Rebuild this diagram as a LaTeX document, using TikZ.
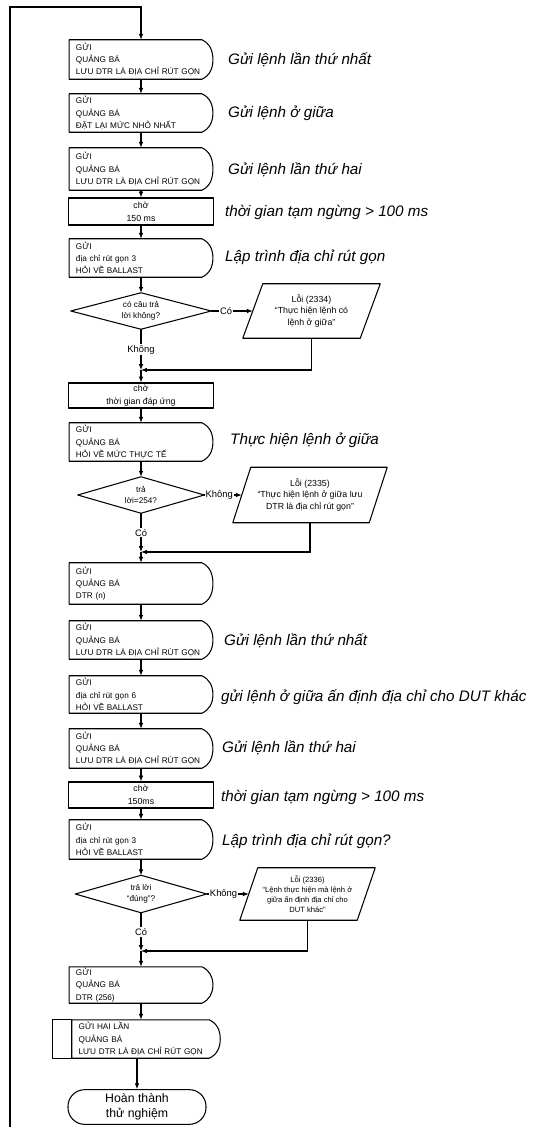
\documentclass[tikz,border=0pt]{standalone}
\usepackage{fontspec}
\setmainfont{Liberation Sans}
\usetikzlibrary{arrows.meta,calc,positioning}
\tikzset{
  vien/.style={
    line width = 0.9pt,
    line join = round
  },
  flow/.style={
    line width = 0.9pt,
    -{Latex[length=5pt,width=4pt]}
  },
  gui/.style={
    inner xsep = 0.2cm,
    inner ysep = 0pt,
    text width = 3.9cm,
    align = left,
    font = \fontsize{7}{10.5}\selectfont
  },
  cho/.style={
    draw,
    vien,
    minimum width = 4.35cm,
    align = center,
    inner sep = 0pt,
    font = \fontsize{7.5}{11}\selectfont
  },
  hoi/.style={
    inner sep = 0pt,
    align = center,
    font = \fontsize{7}{9.5}\selectfont
  },
  loi/.style={
    inner sep = 0pt,
    align = center,
    font = \fontsize{7.5}{10}\selectfont
  },
  ketthuc/.style={
    draw,
    vien,
    rounded corners = 0.5cm,
    minimum width = 4.14cm,
    align = center,
    font = \fontsize{10.5}{13}\selectfont
  },
  ghichu/.style={
    anchor = west,
    inner sep = 0pt,
    font = \fontsize{13}{15}\selectfont\itshape
  },
  nhan/.style={
    fill = white,
    inner sep = 1pt,
    font = \fontsize{8}{9}\selectfont
  }
}

\begin{document}
\begin{tikzpicture}[x=0.03cm,y=-0.03cm]
    \def\px{0.03cm}
    \useasboundingbox (0,0) rectangle (537,1127);
    % first pass
    \node[gui, minimum height=39*\px] (g1) at (141,59.5) {GỬI\\QUẢNG BÁ\\LƯU DTR LÀ ĐỊA CHỈ RÚT GỌN};
    \node[gui, minimum height=38*\px] (g2) at (141,113) {GỬI\\QUẢNG BÁ\\ĐẶT LẠI MỨC NHỎ NHẤT};
    \node[gui, minimum height=42*\px] (g3) at (141,169) {GỬI\\QUẢNG BÁ\\LƯU DTR LÀ ĐỊA CHỈ RÚT GỌN};
    \node[cho, minimum height=27*\px] (w1) at (141,211.5) {chờ\\150 ms};
    \node[gui, minimum height=38*\px] (g4) at (141,258) {GỬI\\địa chỉ rút gọn 3\\HỎI VỀ BALLAST};
    \node[hoi, minimum width=140*\px, minimum height=36*\px] (d1) at (141,311) {có câu trả\\lời không?};
    \node[loi, minimum width=137*\px, minimum height=54*\px] (e1) at (311.5,311) {Lỗi (2334)\\“Thực hiện lệnh có\\lệnh ở giữa”};
    \coordinate (m1) at (141,370);
    \node[cho, minimum height=25*\px] (w2) at (141,395.5) {chờ\\thời gian đáp ứng};
    \node[gui, minimum height=38*\px] (g5) at (141,442) {GỬI\\QUẢNG BÁ\\HỎI VỀ MỨC THỰC TẾ};
    \node[hoi, minimum width=126*\px, minimum height=36*\px] (d2) at (141,495) {trả\\lời=254?};
    \node[loi, minimum width=154*\px, minimum height=55*\px] (e2) at (310,495) {Lỗi (2335)\\“Thực hiện lệnh ở giữa lưu\\DTR là địa chỉ rút gọn”};
    \coordinate (m2) at (141,552);
    % second pass
    \node[gui, minimum height=41*\px] (g6) at (141,583.5) {GỬI\\QUẢNG BÁ\\DTR (n)};
    \node[gui, minimum height=38*\px] (g7) at (141,640) {GỬI\\QUẢNG BÁ\\LƯU DTR LÀ ĐỊA CHỈ RÚT GỌN};
    \node[gui, minimum height=37*\px] (g8) at (141,694.5) {GỬI\\địa chỉ rút gọn 6\\HỎI VỀ BALLAST};
    \node[gui, minimum height=39*\px] (g9) at (141,748.5) {GỬI\\QUẢNG BÁ\\LƯU DTR LÀ ĐỊA CHỈ RÚT GỌN};
    \node[cho, minimum height=26*\px] (w3) at (141,795) {chờ\\150ms};
    \node[gui, minimum height=39*\px] (g10) at (141,839.5) {GỬI\\địa chỉ rút gọn 3\\HỎI VỀ BALLAST};
    \node[hoi, minimum width=131*\px, minimum height=37*\px] (d3) at (141,894) {trả lời\\“đúng”?};
    \node[loi, minimum width=135*\px, minimum height=52*\px, font=\fontsize{6.5}{8.5}\selectfont] (e3) at (307.5,894) {Lỗi (2336)\\“Lệnh thực hiện mà lệnh ở\\giữa ấn định địa chỉ cho\\DUT khác”};
    \coordinate (m3) at (141,951);
    \node[gui, minimum height=36*\px] (g11) at (141,985) {GỬI\\QUẢNG BÁ\\DTR (256)};
    \node[gui, text width=4.04cm, minimum height=38*\px] (g12) at (146,1039) {GỬI HAI LẦN\\QUẢNG BÁ\\LƯU DTR LÀ ĐỊA CHỈ RÚT GỌN};
    \node[ketthuc, minimum height=34*\px] (t1) at (137,1107) {Hoàn thành\\thử nghiệm};
    % outlines
    \foreach \n in {g1,g2,g3,g4,g5,g6,g7,g8,g9,g10,g11,g12}{
    \draw[vien] ($(\n.north east)+(-11,0)$) -- (\n.north west) -- (\n.south west)
      -- ($(\n.south east)+(-11,0)$) to[out=25,in=-90] (\n.east)
      to[out=90,in=-25] ($(\n.north east)+(-11,0)$) -- cycle;}
    \draw[vien] (g12.north west) -- ++(-19,0) |- (g12.south west);
    \foreach \n in {d1,d2,d3}{
    \draw[vien] (\n.north) -- (\n.east) -- (\n.south) -- (\n.west) -- cycle;}
    \foreach \n/\s in {e1/20,e2/18,e3/18}{
    \draw[vien] (\n.south west) -- ($(\n.north west)+(\s,0)$) -- (\n.north east)
      -- ($(\n.south east)+(-\s,0)$) -- cycle;}
    % connectors
    \coordinate (vd) at (10,1127);
    \coordinate (vt) at (10,7);
    \draw[flow, line width=1.1pt] (vd) -- (vt) -- (vt -| g1) -- (g1);
    \foreach \a/\b in {g1/g2,g2/g3,g3/w1,w1/g4,g4/d1,w2/g5,g5/d2,g6/g7,g7/g8,g8/g9,g9/w3,w3/g10,g10/d3}{
    \draw[flow] (\a) -- (\b);}
    \draw[flow] (d1.east) -- ($(e1.west)+(10,0)$) node[nhan, pos=0.36] {Có};
    \draw[flow] (d1) -- (m1) node[nhan, midway] {Không};
    \draw[flow] (e1.south) |- (m1);
    \draw[flow] (m1) -- (w2);
    \draw[flow] (d2.east) -- ($(e2.west)+(9,0)$) node[nhan, pos=0.4] {Không};
    \draw[flow] (d2) -- (m2) node[nhan, midway] {Có};
    \draw[flow] (e2.south) |- (m2);
    \draw[flow] (m2) -- (g6);
    \draw[flow] (d3.east) -- ($(e3.west)+(9,0)$) node[nhan, pos=0.4] {Không};
    \draw[flow] (d3) -- (m3) node[nhan, midway] {Có};
    \draw[flow] (e3.south) |- (m3);
    \draw[flow] (m3) -- (g11);
    \draw[flow] (g11) -- (g11 |- g12.north);
    \draw[flow] (t1 |- g12.south) -- (t1);
    % notes
    \node[ghichu] (c1) at (228,60) {Gửi lệnh lần thứ nhất};
    \node[ghichu] (c2) at (228,113) {Gửi lệnh ở giữa};
    \node[ghichu] (c3) at (228,170) {Gửi lệnh lần thứ hai};
    \node[ghichu] (c4) at (225,212) {thời gian tạm ngừng > 100 ms};
    \node[ghichu] (c5) at (225,257) {Lập trình địa chỉ rút gọn};
    \node[ghichu] (c6) at (230,440) {Thực hiện lệnh ở giữa};
    \node[ghichu] (c7) at (224,641) {Gửi lệnh lần thứ nhất};
    \node[ghichu] (c8) at (221,697) {gửi lệnh ở giữa ấn định địa chỉ cho DUT khác};
    \node[ghichu] (c9) at (222,748) {Gửi lệnh lần thứ hai};
    \node[ghichu] (c10) at (221,797) {thời gian tạm ngừng > 100 ms};
    \node[ghichu] (c11) at (222,841) {Lập trình địa chỉ rút gọn?};
\end{tikzpicture}
\end{document}
